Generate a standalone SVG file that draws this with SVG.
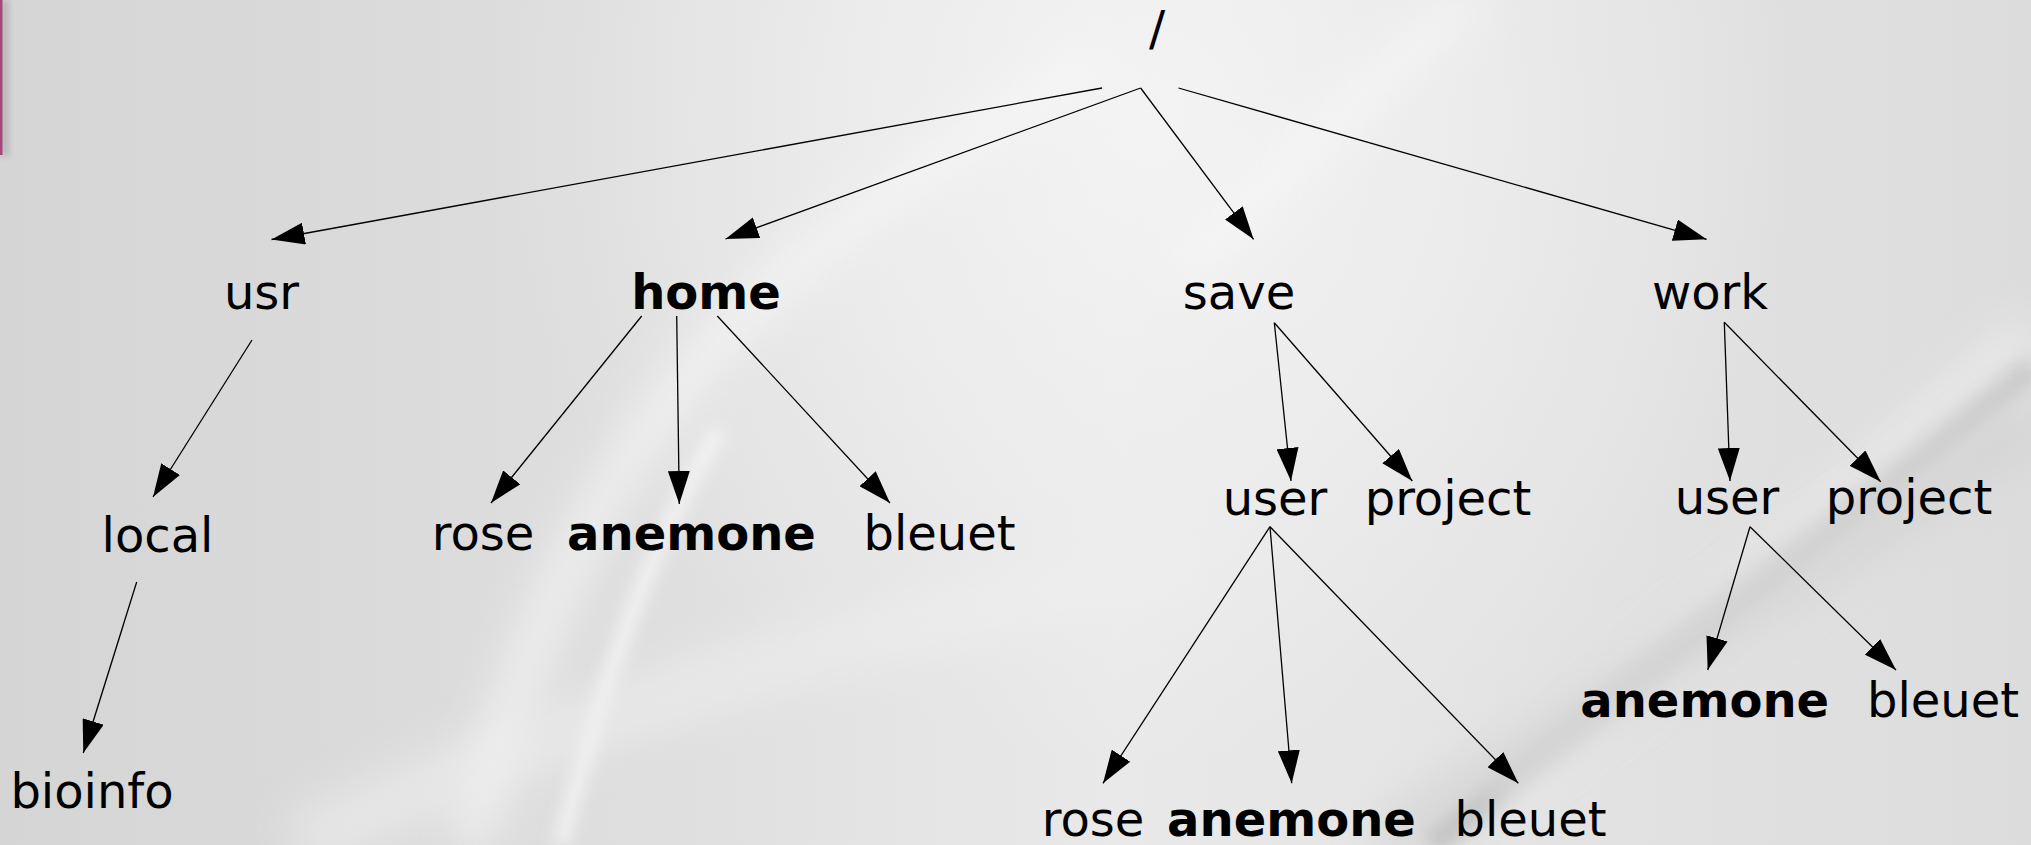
<svg xmlns="http://www.w3.org/2000/svg" width="2031" height="845" viewBox="0 0 2031 845">
<defs>
<linearGradient id="bgH" x1="0" y1="0" x2="1" y2="0">
<stop offset="0" stop-color="#d5d5d5"/>
<stop offset="0.3" stop-color="#dedede"/>
<stop offset="0.55" stop-color="#e9e9e9"/>
<stop offset="0.8" stop-color="#e2e2e2"/>
<stop offset="1" stop-color="#dcdcdc"/>
</linearGradient>
<radialGradient id="glow" cx="1150" cy="120" r="650" gradientUnits="userSpaceOnUse">
<stop offset="0" stop-color="#f4f4f4" stop-opacity="0.9"/>
<stop offset="1" stop-color="#f4f4f4" stop-opacity="0"/>
</radialGradient>
<filter id="blur20" x="-50%" y="-50%" width="200%" height="200%"><feGaussianBlur stdDeviation="20"/></filter>
<filter id="blur8" x="-50%" y="-50%" width="200%" height="200%"><feGaussianBlur stdDeviation="8"/></filter>
<filter id="blur3" x="-50%" y="-50%" width="200%" height="200%"><feGaussianBlur stdDeviation="3"/></filter>
<marker id="ah" markerUnits="userSpaceOnUse" markerWidth="33" markerHeight="22" refX="33" refY="11" orient="auto">
<path d="M0,0 L33,11 L0,22 z" fill="#000"/>
</marker>
<style>
.t{font-family:"DejaVu Sans","Liberation Sans",sans-serif;font-size:48px;fill:#000;text-anchor:middle}
.b{font-weight:bold}
.c line{stroke:#000;stroke-width:1.3;marker-end:url(#ah)}
</style>
</defs>
<g id="background">
<rect x="0" y="0" width="2031" height="845" fill="url(#bgH)"/>
<rect x="0" y="0" width="2031" height="845" fill="url(#glow)"/>
<path d="M470,845 C520,650 600,450 760,300 C880,190 1000,120 1100,60" stroke="#f6f6f6" stroke-width="40" fill="none" opacity="0.7" filter="url(#blur20)"/>
<path d="M560,845 C600,700 640,560 720,430" stroke="#fafafa" stroke-width="14" fill="none" opacity="0.8" filter="url(#blur8)"/>
<path d="M1180,270 C1280,170 1380,80 1470,0" stroke="#f6f6f6" stroke-width="40" fill="none" opacity="0.7" filter="url(#blur20)"/>
<path d="M300,845 C600,700 900,620 1200,560" stroke="#eeeeee" stroke-width="60" fill="none" opacity="0.6" filter="url(#blur20)"/>
<path d="M1430,845 L2031,365" stroke="#b9b9b9" stroke-width="26" fill="none" opacity="0.8" filter="url(#blur8)"/>
<path d="M1500,800 L2031,330" stroke="#ececec" stroke-width="40" fill="none" opacity="0.8" filter="url(#blur20)"/>
<path d="M1380,845 L2031,420" stroke="#cfcfcf" stroke-width="50" fill="none" opacity="0.6" filter="url(#blur20)"/>
<rect x="0" y="0" width="9" height="156" fill="#9a9a9a" opacity="0.5" filter="url(#blur3)"/>
<rect x="0" y="0" width="2.5" height="155" fill="#a8457a"/>
</g>
<g id="connectors" class="c">
<line x1="1102" y1="88" x2="271.5" y2="239.5"/>
<line x1="1140.6" y1="88" x2="725.5" y2="239"/>
<line x1="1140.6" y1="88" x2="1253.6" y2="239.3"/>
<line x1="1178.5" y1="88" x2="1706.6" y2="239.3"/>
<line x1="252" y1="340" x2="153" y2="497"/>
<line x1="136.7" y1="582" x2="83.3" y2="753"/>
<line x1="641.7" y1="316" x2="491" y2="503"/>
<line x1="676.7" y1="316" x2="679.3" y2="504"/>
<line x1="717.3" y1="316" x2="890" y2="503"/>
<line x1="1274.3" y1="322.7" x2="1291" y2="481"/>
<line x1="1274.3" y1="322.7" x2="1412.3" y2="481"/>
<line x1="1270" y1="526.7" x2="1103" y2="783.3"/>
<line x1="1270" y1="526.7" x2="1291.7" y2="783.3"/>
<line x1="1270" y1="526.7" x2="1518.3" y2="783.3"/>
<line x1="1724.3" y1="322.3" x2="1730" y2="481"/>
<line x1="1724.3" y1="322.3" x2="1880.7" y2="481.7"/>
<line x1="1750" y1="526.7" x2="1707.7" y2="670"/>
<line x1="1750" y1="526.7" x2="1896" y2="670"/>
</g>
<g id="root"><text class="t" x="1157" y="45">/</text></g>
<g id="usr"><text class="t" x="261.5" y="309">usr</text></g>
<g id="home"><text class="t b" x="706" y="309">home</text></g>
<g id="save"><text class="t" x="1239" y="309">save</text></g>
<g id="work"><text class="t" x="1710" y="308.5">work</text></g>
<g id="local"><text class="t" x="157.5" y="552">local</text></g>
<g id="bioinfo"><text class="t" x="92" y="808">bioinfo</text></g>
<g id="home-rose"><text class="t" x="483" y="550">rose</text></g>
<g id="home-anemone"><text class="t b" x="691.5" y="550">anemone</text></g>
<g id="home-bleuet"><text class="t" x="939.5" y="550">bleuet</text></g>
<g id="save-user"><text class="t" x="1275" y="515">user</text></g>
<g id="save-project"><text class="t" x="1448" y="515">project</text></g>
<g id="save-user-rose"><text class="t" x="1093" y="836">rose</text></g>
<g id="save-user-anemone"><text class="t b" x="1291.5" y="836">anemone</text></g>
<g id="save-user-bleuet"><text class="t" x="1530.5" y="836">bleuet</text></g>
<g id="work-user"><text class="t" x="1727" y="514">user</text></g>
<g id="work-project"><text class="t" x="1909" y="514">project</text></g>
<g id="work-user-anemone"><text class="t b" x="1704.7" y="716.7">anemone</text></g>
<g id="work-user-bleuet"><text class="t" x="1943" y="716.7">bleuet</text></g>
</svg>
